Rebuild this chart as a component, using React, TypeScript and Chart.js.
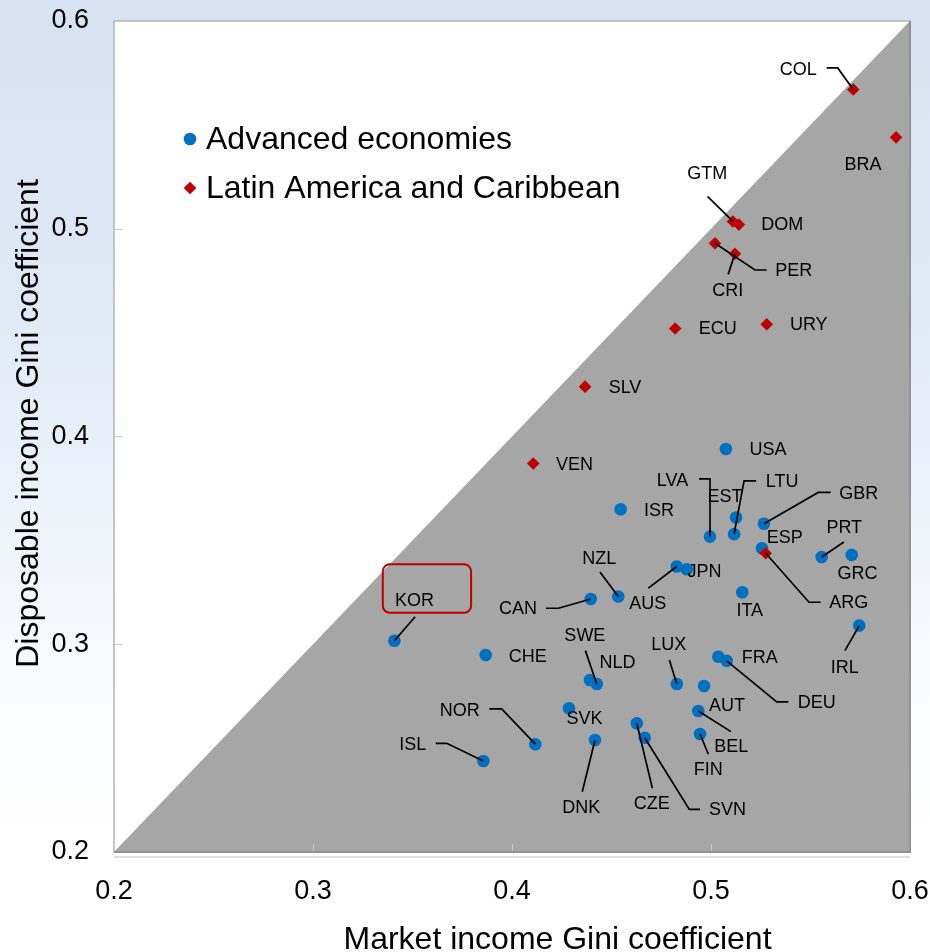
import React, { useEffect, useRef } from 'react';
import { Chart, registerables } from 'chart.js';

Chart.register(...registerables);

// ---------- DATA ----------
const advCodes = ['USA', 'ISR', 'LVA', 'EST', 'LTU', 'GBR', 'ESP', 'PRT', 'GRC', 'NZL', 'CAN', 'AUS', 'JPN', 'ITA', 'IRL', 'FRA', 'DEU', 'KOR', 'CHE', 'SWE', 'NLD', 'LUX', 'AUT', 'BEL', 'FIN', 'SVK', 'DNK', 'CZE', 'SVN', 'NOR', 'ISL'];
const advMarket = [0.5075, 0.4546, 0.4995, 0.5126, 0.5116, 0.5266, 0.5256, 0.5556, 0.5707, 0.4534, 0.4396, 0.4828, 0.4878, 0.5157, 0.5745, 0.5037, 0.5079, 0.3409, 0.3868, 0.4426, 0.4392, 0.4828, 0.4965, 0.4936, 0.4945, 0.4286, 0.4417, 0.4627, 0.4667, 0.4117, 0.3856];
const advDisposable = [0.394, 0.365, 0.3518, 0.361, 0.353, 0.358, 0.3462, 0.342, 0.343, 0.323, 0.3218, 0.3374, 0.3361, 0.325, 0.309, 0.294, 0.292, 0.3017, 0.2948, 0.2809, 0.2828, 0.2809, 0.2799, 0.2679, 0.2568, 0.2692, 0.2539, 0.262, 0.255, 0.2519, 0.2438];

const latCodes = ['COL', 'BRA', 'GTM', 'DOM', 'PER', 'CRI', 'ECU', 'URY', 'SLV', 'VEN', 'ARG'];
const latMarket = [0.5715, 0.593, 0.511, 0.514, 0.502, 0.512, 0.482, 0.528, 0.4367, 0.4107, 0.5275];
const latDisposable = [0.567, 0.544, 0.5035, 0.502, 0.493, 0.488, 0.452, 0.454, 0.424, 0.387, 0.3438];

const seriesNames = ['Advanced economies', 'Latin America and Caribbean'];
const xTickValues = [0.2, 0.3, 0.4, 0.5, 0.6];
const xTickLabels = ['0.2', '0.3', '0.4', '0.5', '0.6'];
const yTickValues = [0.2, 0.3, 0.4, 0.5, 0.6];
const yTickLabels = ['0.2', '0.3', '0.4', '0.5', '0.6'];
const xTitle = 'Market income Gini coefficient';
const yTitle = 'Disposable income Gini coefficient';
const highlightCode = 'KOR';

// ---------- LABEL LAYOUT (pixel offsets from each point) ----------
type Lay = { dx: number; dy: number; leader?: [number, number][] };
const labelLayout: Record<string, Lay> = {
  COL: { dx: -55, dy: -21, leader: [[-26.6, -21.6], [-15.6, -21.6], [0, 0]] },
  BRA: { dx: -33, dy: 26.4 },
  GTM: { dx: -25.7, dy: -48.2, leader: [[-25.4, -25], [0, 0]] },
  DOM: { dx: 43.3, dy: -0.8 },
  PER: { dx: 78.8, dy: 27.2, leader: [[51.7, 26.7], [40, 26.7], [0, 0]] },
  CRI: { dx: -7.2, dy: 35.9, leader: [[-6.7, 20.7], [0, 0]] },
  ECU: { dx: 42.5, dy: 0 },
  URY: { dx: 42, dy: 0 },
  SLV: { dx: 40, dy: 0.5 },
  VEN: { dx: 41.2, dy: 1 },
  ARG: { dx: 83, dy: 49.2, leader: [[55, 49], [43.3, 49], [0, 0]] },
  USA: { dx: 42, dy: 0 },
  ISR: { dx: 38.3, dy: 0.4 },
  LVA: { dx: -37.5, dy: -57, leader: [[-11, -57.7], [0, -57.7], [0, 0]] },
  EST: { dx: -11, dy: -21.4 },
  LTU: { dx: 48, dy: -53, leader: [[22, -53.3], [10, -53.3], [0, 0]] },
  GBR: { dx: 94.8, dy: -30.5, leader: [[66.7, -31.3], [54.3, -31.3], [0, 0]] },
  ESP: { dx: 22.7, dy: -11.6 },
  PRT: { dx: 22.6, dy: -29.9, leader: [[22.3, -15], [0, 0]] },
  GRC: { dx: 5.8, dy: 18.5 },
  NZL: { dx: -19.1, dy: -38.9, leader: [[-18.3, -24.4], [0, 0]] },
  CAN: { dx: -72.9, dy: 9.3, leader: [[-44.7, 9.3], [-32.4, 9.3], [0, 0]] },
  AUS: { dx: -28.9, dy: 36.8, leader: [[-28.4, 21.6], [0, 0]] },
  JPN: { dx: 17.8, dy: 1.5 },
  ITA: { dx: 7.5, dy: 17.9 },
  IRL: { dx: -14.5, dy: 41, leader: [[-14.3, 25], [0, 0]] },
  FRA: { dx: 41.4, dy: 0.8 },
  DEU: { dx: 90, dy: 41.1, leader: [[61.6, 41], [50, 41], [0, 0]] },
  KOR: { dx: 20.2, dy: -40.2, leader: [[20.7, -24], [0, 0]] },
  CHE: { dx: 42.1, dy: 0.5 },
  SWE: { dx: -11.9, dy: -48.5, leader: [[-11.4, -33.3], [0, 0]] },
  NLD: { dx: 27.5, dy: -17.5 },
  LUX: { dx: -7.9, dy: -39.5, leader: [[-7.4, -24], [0, 0]] },
  AUT: { dx: 23, dy: 18.8 },
  BEL: { dx: 33, dy: 34.8, leader: [[32.7, 20.7], [0, 0]] },
  FIN: { dx: 8.3, dy: 35.2, leader: [[8.3, 20.3], [0, 0]] },
  SVK: { dx: 15.7, dy: 10.2 },
  DNK: { dx: -13.7, dy: 67.2, leader: [[-12.7, 51.7], [0, 0]] },
  CZE: { dx: 15, dy: 80, leader: [[15.6, 65], [0, 0]] },
  SVN: { dx: 82.8, dy: 71.5, leader: [[55.3, 71.6], [44.6, 71.6], [0, 0]] },
  NOR: { dx: -75.6, dy: -34.3, leader: [[-46, -35.3], [-33.6, -35.3], [0, 0]] },
  ISL: { dx: -70.6, dy: -16.8, leader: [[-47.6, -17.7], [-36.6, -17.7], [0, 0]] },
};

const FONT = "'Liberation Sans', Arial, Helvetica, sans-serif";

const zeroPad = (s: any) => {
  s.paddingLeft = 0;
  s.paddingRight = 0;
  s.paddingTop = 0;
  s.paddingBottom = 0;
};

const decorPlugin = {
  id: 'decor',
  beforeDraw(chart: any) {
    const { ctx, chartArea: a } = chart;
    ctx.save();
    ctx.fillStyle = '#ffffff';
    ctx.fillRect(a.left, a.top, a.right - a.left, a.bottom - a.top);
    ctx.restore();
  },
  afterDatasetsDraw(chart: any) {
    const { ctx, chartArea: a, scales } = chart;
    ctx.save();
    // inward tick marks
    ctx.strokeStyle = '#c8c8c8';
    ctx.lineWidth = 1;
    xTickValues.slice(1, -1).forEach((v) => {
      const px = Math.round(scales.x.getPixelForValue(v)) + 0.5;
      ctx.beginPath();
      ctx.moveTo(px, a.bottom);
      ctx.lineTo(px, a.bottom - 8);
      ctx.stroke();
    });
    yTickValues.slice(1, -1).forEach((v) => {
      const py = Math.round(scales.y.getPixelForValue(v)) + 0.5;
      ctx.beginPath();
      ctx.moveTo(a.left, py);
      ctx.lineTo(a.left + 8, py);
      ctx.stroke();
    });
    // plot border
    ctx.strokeStyle = '#b4b4b4';
    ctx.lineWidth = 1.5;
    ctx.strokeRect(a.left, a.top, a.right - a.left, a.bottom - a.top);
    ctx.strokeStyle = '#929292';
    ctx.lineWidth = 2;
    ctx.beginPath();
    ctx.moveTo(a.right, a.top);
    ctx.lineTo(a.right, a.bottom);
    ctx.lineTo(a.left, a.bottom);
    ctx.stroke();
    ctx.strokeStyle = '#d4d4d4';
    ctx.lineWidth = 1.5;
    ctx.beginPath();
    ctx.moveTo(a.left, a.bottom + 5);
    ctx.lineTo(a.right, a.bottom + 5);
    ctx.stroke();

    // labels and leaders
    const groups = [
      { idx: 1, codes: advCodes },
      { idx: 2, codes: latCodes },
    ];
    ctx.font = `18px ${FONT}`;
    ctx.textAlign = 'center';
    ctx.textBaseline = 'middle';
    groups.forEach((g) => {
      const meta = chart.getDatasetMeta(g.idx);
      meta.data.forEach((el: any, i: number) => {
        const code = g.codes[i];
        const lay = labelLayout[code];
        if (!lay) return;
        const { x, y } = el;
        if (lay.leader) {
          ctx.strokeStyle = '#000000';
          ctx.lineWidth = 1.7;
          ctx.beginPath();
          lay.leader.forEach(([lx, ly], k) => {
            if (k === 0) ctx.moveTo(x + lx, y + ly);
            else ctx.lineTo(x + lx, y + ly);
          });
          ctx.stroke();
        }
        ctx.fillStyle = '#000000';
        ctx.fillText(code, x + lay.dx, y + lay.dy + 1);
        if (code === highlightCode) {
          ctx.strokeStyle = '#c00000';
          ctx.lineWidth = 2;
          ctx.beginPath();
          (ctx as any).roundRect(x - 11.6, y - 76.4, 88.3, 48.4, 7);
          ctx.stroke();
        }
      });
    });

    // legend
    const lx = 190;
    const ly0 = 139;
    const gap = 49;
    [1, 2].forEach((di, k) => {
      const ds = chart.data.datasets[di];
      const cy = ly0 + k * gap;
      ctx.fillStyle = ds.backgroundColor;
      ctx.beginPath();
      if (ds.pointStyle === 'circle') {
        ctx.arc(lx, cy, 6.3, 0, Math.PI * 2);
      } else {
        ctx.moveTo(lx - 6.3, cy);
        ctx.lineTo(lx, cy - 6.3);
        ctx.lineTo(lx + 6.3, cy);
        ctx.lineTo(lx, cy + 6.3);
        ctx.closePath();
      }
      ctx.fill();
      ctx.fillStyle = '#000000';
      ctx.font = `32px ${FONT}`;
      ctx.textAlign = 'left';
      ctx.textBaseline = 'middle';
      ctx.fillText(ds.label, 206, cy + 1);
    });

    // axis titles
    ctx.fillStyle = '#000000';
    ctx.font = `32px ${FONT}`;
    ctx.textAlign = 'center';
    ctx.textBaseline = 'alphabetic';
    ctx.fillText(xTitle, 557.5, 948.5);
    ctx.translate(37.5, 423.5);
    ctx.rotate(-Math.PI / 2);
    ctx.fillText(yTitle, 0, 0);
    ctx.restore();
  },
};

export default function App() {
  const ref = useRef<HTMLCanvasElement | null>(null);
  useEffect(() => {
    if (!ref.current) return;
    const chart = new Chart(ref.current, {
      type: 'scatter',
      data: {
        datasets: [
          {
            type: 'line',
            label: 'diagonal',
            data: [
              { x: xTickValues[0], y: yTickValues[0] },
              { x: xTickValues[xTickValues.length - 1], y: yTickValues[yTickValues.length - 1] },
            ],
            fill: 'start',
            backgroundColor: '#a6a6a6',
            borderWidth: 0,
            pointRadius: 0,
            order: 3,
          } as any,
          {
            label: seriesNames[0],
            data: advCodes.map((_, i) => ({ x: advMarket[i], y: advDisposable[i] })),
            backgroundColor: '#0070c0',
            borderWidth: 0,
            pointStyle: 'circle',
            pointRadius: 6.3,
            order: 2,
          },
          {
            label: seriesNames[1],
            data: latCodes.map((_, i) => ({ x: latMarket[i], y: latDisposable[i] })),
            backgroundColor: '#c00000',
            borderWidth: 0,
            pointStyle: 'rectRot',
            pointRadius: 6.3,
            order: 1,
          },
        ],
      },
      options: {
        animation: false,
        responsive: false,
        layout: { autoPadding: false, padding: { left: 0, top: 21, right: 20, bottom: 0 } },
        plugins: { legend: { display: false }, tooltip: { enabled: false } },
        scales: {
          x: {
            type: 'linear',
            min: 0.2,
            max: 0.6,
            grid: { display: false, drawTicks: false },
            border: { display: false },
            afterBuildTicks: (s: any) => {
              s.ticks = xTickValues.map((v) => ({ value: v }));
            },
            afterFit: (s: any) => {
              s.height = 100;
              zeroPad(s);
            },
            ticks: {
              padding: 23,
              color: '#000000',
              font: { family: FONT, size: 27 },
              maxRotation: 0,
              callback: (_v: any, i: number) => xTickLabels[i],
            },
          },
          y: {
            type: 'linear',
            min: 0.2,
            max: 0.6,
            grid: { display: false, drawTicks: false },
            border: { display: false },
            afterBuildTicks: (s: any) => {
              s.ticks = yTickValues.map((v) => ({ value: v }));
            },
            afterFit: (s: any) => {
              s.width = 114;
              zeroPad(s);
            },
            ticks: {
              padding: 25,
              color: '#000000',
              font: { family: FONT, size: 27 },
              callback: (_v: any, i: number) => yTickLabels[i],
            },
          },
        },
      },
      plugins: [decorPlugin],
    });
    return () => chart.destroy();
  }, []);

  return (
    <div
      style={{
        position: 'absolute',
        left: 0,
        top: 0,
        width: 930,
        height: 952,
        background:
          'linear-gradient(180deg, #d7e2f2 0%, #dfe8f5 30%, #eef3fa 55%, #fbfcfe 75%, #ffffff 90%)',
      }}
    >
      <canvas ref={ref} width={930} height={952} style={{ display: 'block' }} />
    </div>
  );
}
